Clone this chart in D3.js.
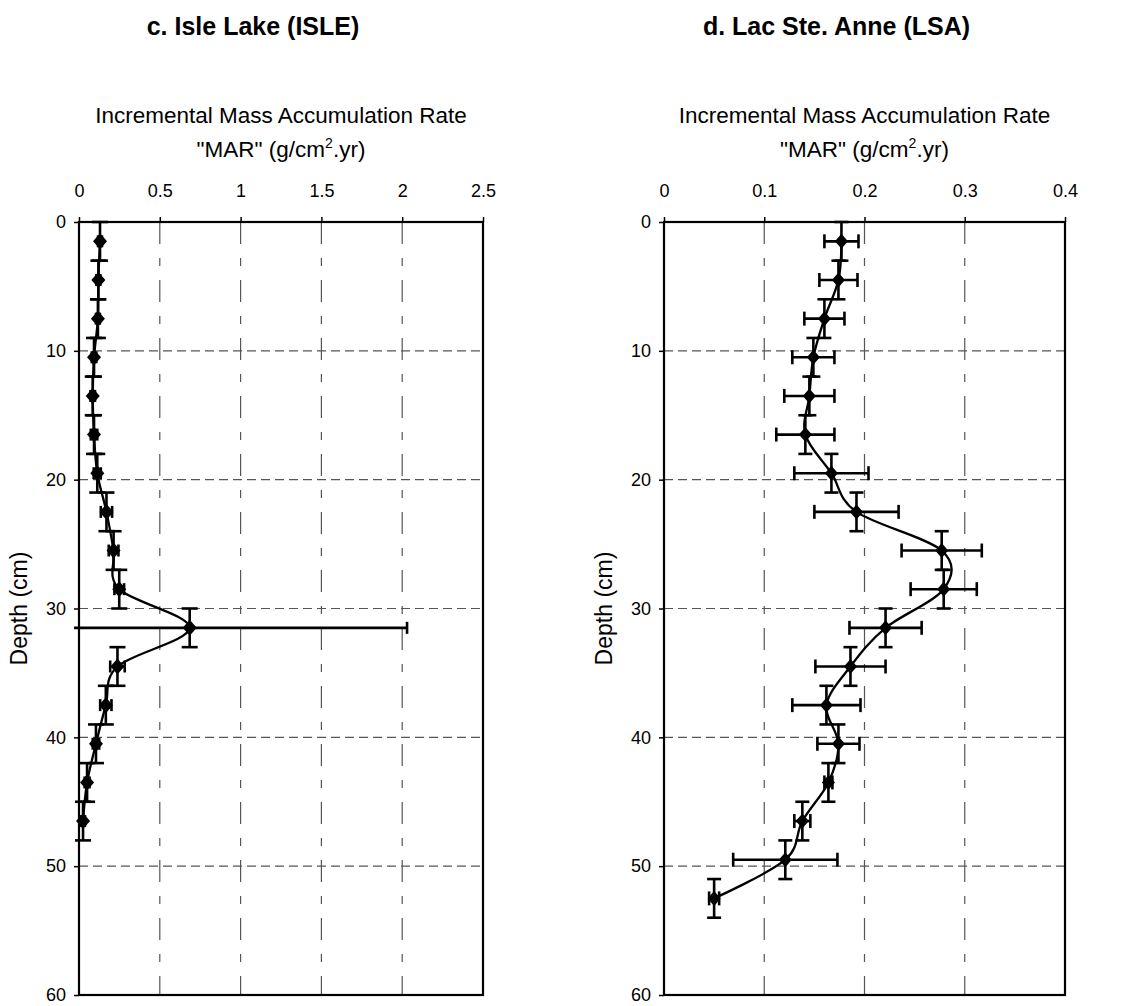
<!DOCTYPE html>
<html>
<head>
<meta charset="utf-8">
<script src="https://cdn.jsdelivr.net/npm/d3@7"></script>
<style>
  body { margin: 0; background: #fff; }
  svg { font-family: "Liberation Sans", Arial, sans-serif; }
  .tick text { font-size: 18px; fill: #000; }
  .tick line { stroke: #000; stroke-width: 1.5; }
</style>
</head>
<body>
<div id="chart"></div>
<script>
// depth (cm) of each slice midpoint, MAR value and +/- error on MAR
const isleDepth = [1.5, 4.5, 7.5, 10.5, 13.5, 16.5, 19.5, 22.5, 25.5, 28.5, 31.5, 34.5, 37.5, 40.5, 43.5, 46.5];
const isleMar   = [0.13, 0.12, 0.117, 0.093, 0.085, 0.093, 0.113, 0.17, 0.214, 0.249, 0.685, 0.238, 0.166, 0.105, 0.05, 0.025];
const isleErr   = [0.012, 0.012, 0.012, 0.014, 0.014, 0.02, 0.022, 0.035, 0.03, 0.03, 1.345, 0.045, 0.035, 0.02, 0.015, 0.012];

const lsaDepth = [1.5, 4.5, 7.5, 10.5, 13.5, 16.5, 19.5, 22.5, 25.5, 28.5, 31.5, 34.5, 37.5, 40.5, 43.5, 46.5, 49.5, 52.5];
const lsaMar   = [0.177, 0.174, 0.16, 0.149, 0.145, 0.141, 0.167, 0.192, 0.277, 0.279, 0.221, 0.186, 0.162, 0.174, 0.164, 0.138, 0.121, 0.05];
const lsaErr   = [0.017, 0.019, 0.02, 0.021, 0.025, 0.029, 0.037, 0.042, 0.04, 0.033, 0.036, 0.035, 0.034, 0.021, 0.004, 0.008, 0.052, 0.005];

const depthErr = 1.5;
const depthTicks = [0, 10, 20, 30, 40, 50, 60];
const isleTicks = [0, 0.5, 1, 1.5, 2, 2.5];
const lsaTicks = [0, 0.1, 0.2, 0.3, 0.4];

const svg = d3.select("#chart").append("svg")
    .attr("width", 1125)
    .attr("height", 1006);

function diamond(w, h) {
    return `M0,${-h}L${w},0L0,${h}L${-w},0Z`;
}

function drawPanel(p) {
    let x = d3.scaleLinear().domain([p.xTicks[0], p.xTicks[p.xTicks.length - 1]]).range([p.left, p.right]);
    let y = d3.scaleLinear().domain([0, 60]).range([p.top, p.bottom]);
    let g = svg.append("g");

    // title
    g.append("text")
        .attr("x", (p.left + p.right) / 2 - 28)
        .attr("y", 35)
        .attr("text-anchor", "middle")
        .style("font-size", "25px")
        .style("font-weight", "bold")
        .text(p.title);

    // x axis title, two lines
    g.append("text")
        .attr("x", (p.left + p.right) / 2)
        .attr("y", p.top - 99)
        .attr("text-anchor", "middle")
        .style("font-size", "22.5px")
        .text("Incremental Mass Accumulation Rate");
    let t2 = g.append("text")
        .attr("x", (p.left + p.right) / 2)
        .attr("y", p.top - 65)
        .attr("text-anchor", "middle")
        .style("font-size", "22.5px");
    t2.append("tspan").text('"MAR" (g/cm');
    t2.append("tspan").attr("dy", -9).style("font-size", "14px").text("2");
    t2.append("tspan").attr("dy", 9).text(".yr)");

    // y axis title
    g.append("text")
        .attr("transform", `translate(${p.left - 52},${(p.top + p.bottom) / 2}) rotate(-90)`)
        .attr("text-anchor", "middle")
        .style("font-size", "23px")
        .text("Depth (cm)");

    // gridlines
    g.selectAll(".vgrid")
        .data(p.xTicks.slice(1, -1))
        .enter().append("line")
        .attr("x1", d => x(d)).attr("x2", d => x(d))
        .attr("y1", p.top).attr("y2", p.bottom)
        .attr("stroke", "#555").attr("stroke-width", 1.2)
        .attr("stroke-dasharray", "22,14,8,14");
    g.selectAll(".hgrid")
        .data(depthTicks.slice(1, -1))
        .enter().append("line")
        .attr("x1", p.left).attr("x2", p.right)
        .attr("y1", d => y(d)).attr("y2", d => y(d))
        .attr("stroke", "#555").attr("stroke-width", 1.2)
        .attr("stroke-dasharray", "9,5");

    // plot frame
    g.append("rect")
        .attr("x", p.left).attr("y", p.top)
        .attr("width", p.right - p.left).attr("height", p.bottom - p.top)
        .attr("fill", "none").attr("stroke", "#000").attr("stroke-width", 2.2);

    // axes
    let xAxis = g.append("g")
        .attr("transform", `translate(0,${p.top})`)
        .call(d3.axisTop(x).tickValues(p.xTicks).tickFormat(d3.format("")).tickSize(5).tickSizeOuter(0).tickPadding(20));
    xAxis.select(".domain").remove();
    let yAxis = g.append("g")
        .attr("transform", `translate(${p.left},0)`)
        .call(d3.axisLeft(y).tickValues(depthTicks).tickSize(5).tickSizeOuter(0).tickPadding(8));
    yAxis.select(".domain").remove();

    let pts = p.depth.map((d, i) => ({ d: d, v: p.mar[i], e: p.err[i] }));
    let xMin = x.domain()[0];

    // vertical (depth) error bars
    let eb = g.append("g").attr("stroke", "#000").attr("stroke-width", 2.6);
    pts.forEach(pt => {
        eb.append("line")
            .attr("x1", x(pt.v)).attr("x2", x(pt.v))
            .attr("y1", y(pt.d - depthErr)).attr("y2", y(pt.d + depthErr));
        [pt.d - depthErr, pt.d + depthErr].forEach(c => {
            eb.append("line")
                .attr("x1", x(pt.v) - p.capV).attr("x2", x(pt.v) + p.capV)
                .attr("y1", y(c)).attr("y2", y(c));
        });
        // horizontal (MAR) error bars
        let lo = Math.max(pt.v - pt.e, xMin);
        let hi = pt.v + pt.e;
        eb.append("line")
            .attr("x1", x(lo) - (pt.v - pt.e < xMin ? 5 : 0)).attr("x2", x(hi))
            .attr("y1", y(pt.d)).attr("y2", y(pt.d));
        let caps = [hi];
        if (pt.v - pt.e >= xMin) caps.push(lo);
        caps.forEach(c => {
            eb.append("line")
                .attr("x1", x(c)).attr("x2", x(c))
                .attr("y1", y(pt.d) - p.capH).attr("y2", y(pt.d) + p.capH);
        });
    });

    // smoothed line
    let line = d3.line()
        .x(d => x(d.v))
        .y(d => y(d.d))
        .curve(d3.curveCatmullRom.alpha(0));
    g.append("path")
        .datum(pts)
        .attr("d", line)
        .attr("fill", "none")
        .attr("stroke", "#000")
        .attr("stroke-width", 2.3);

    // markers
    g.selectAll(".marker")
        .data(pts)
        .enter().append("path")
        .attr("d", diamond(p.mw, p.mh))
        .attr("transform", d => `translate(${x(d.v)},${y(d.d)})`)
        .attr("fill", "#000");
}

drawPanel({
    title: "c. Isle Lake (ISLE)",
    depth: isleDepth, mar: isleMar, err: isleErr, xTicks: isleTicks,
    left: 79, right: 483, top: 222, bottom: 995,
    capV: 8, capH: 6, mw: 7, mh: 8
});

drawPanel({
    title: "d. Lac Ste. Anne (LSA)",
    depth: lsaDepth, mar: lsaMar, err: lsaErr, xTicks: lsaTicks,
    left: 664, right: 1065, top: 222, bottom: 995,
    capV: 7, capH: 7, mw: 6.5, mh: 7.5
});
</script>
</body>
</html>
